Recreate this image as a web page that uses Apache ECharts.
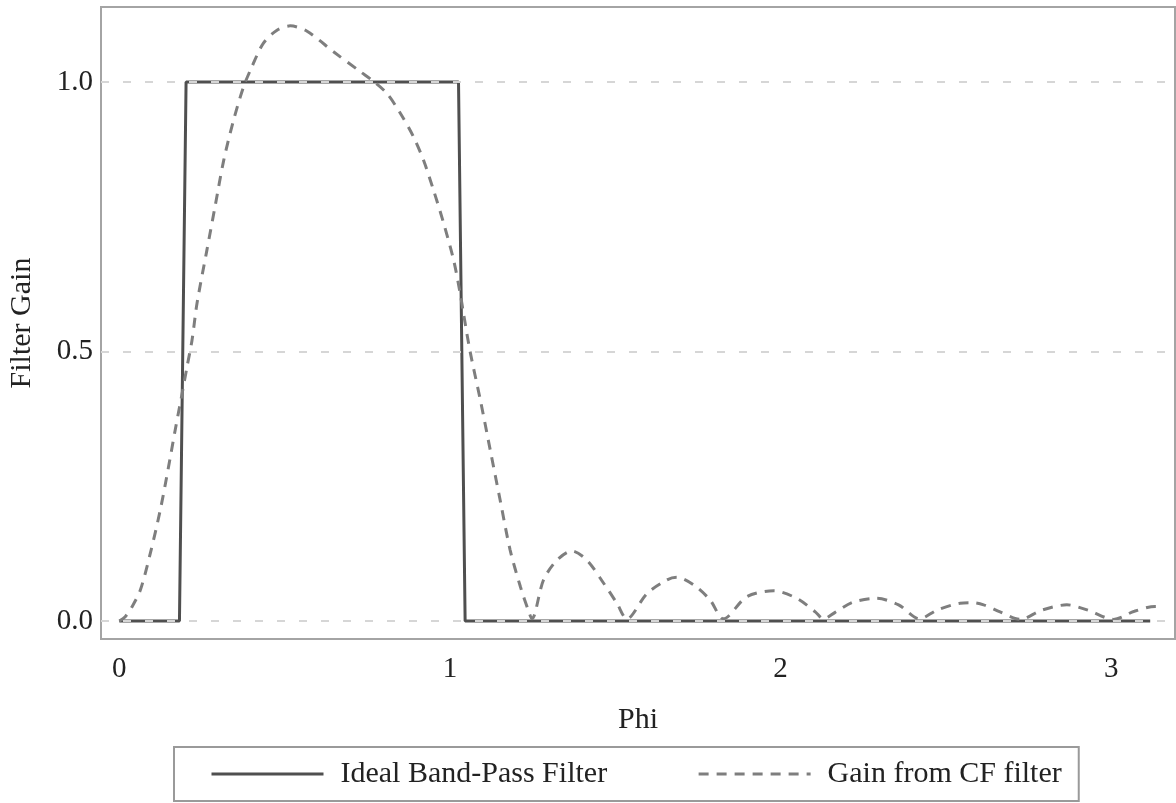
<!DOCTYPE html>
<html>
<head>
<meta charset="utf-8">
<script src="https://cdn.jsdelivr.net/npm/echarts@6/dist/echarts.min.js"></script>
<style>
html,body{margin:0;padding:0;background:#fff;}
#chart{width:1176px;height:803px;}
</style>
</head>
<body>
<div id="chart"></div>
<script>
// ---- data ----
const xTicks = [0, 1, 2, 3];
const yTicks = [0, 0.5, 1.0];
const seriesNames = ['Ideal Band-Pass Filter', 'Gain from CF filter'];

const idealX = [0, 0.182, 0.202, 1.026, 1.046, 3.118];
const idealY = [0, 0, 1, 1, 0, 0];

const gainX = [0.000, 0.018, 0.040, 0.064, 0.094, 0.124, 0.149, 0.169, 0.190, 0.205, 0.220, 0.235, 0.265, 0.290, 0.316, 0.346, 0.376, 0.401, 0.436, 0.477, 0.517, 0.568, 0.648, 0.729, 0.769, 0.809, 0.850, 0.890, 0.920, 0.950, 0.981, 1.011, 1.031, 1.041, 1.061, 1.092, 1.122, 1.152, 1.182, 1.213, 1.238, 1.248, 1.283, 1.324, 1.369, 1.414, 1.465, 1.505, 1.535, 1.596, 1.656, 1.686, 1.737, 1.787, 1.827, 1.898, 1.979, 2.049, 2.105, 2.130, 2.165, 2.220, 2.291, 2.357, 2.420, 2.473, 2.543, 2.578, 2.614, 2.664, 2.724, 2.790, 2.866, 2.930, 3.007, 3.070, 3.133, 3.142];
const gainY = [0.000, 0.008, 0.028, 0.058, 0.126, 0.206, 0.286, 0.354, 0.422, 0.472, 0.521, 0.589, 0.688, 0.770, 0.855, 0.930, 0.991, 1.028, 1.072, 1.096, 1.104, 1.094, 1.056, 1.019, 1.001, 0.979, 0.942, 0.898, 0.855, 0.800, 0.738, 0.670, 0.608, 0.571, 0.500, 0.410, 0.317, 0.224, 0.132, 0.064, 0.018, 0.004, 0.076, 0.113, 0.130, 0.113, 0.070, 0.033, 0.004, 0.051, 0.076, 0.081, 0.067, 0.039, 0.004, 0.045, 0.056, 0.042, 0.017, 0.004, 0.016, 0.035, 0.042, 0.030, 0.004, 0.020, 0.033, 0.034, 0.030, 0.017, 0.003, 0.020, 0.030, 0.020, 0.003, 0.018, 0.027, 0.027];

const zip = (xs, ys) => xs.map((x, i) => [x, ys[i]]);
const FONT = 'Liberation Serif';

const chart = echarts.init(document.getElementById('chart'), null, {renderer: 'canvas'});
chart.setOption({
  animation: false,
  backgroundColor: '#ffffff',
  textStyle: {fontFamily: FONT, color: '#222'},
  grid: {
    left: 101, right: 1, top: 7, bottom: 164,
    show: true, borderColor: '#a4a4a4', borderWidth: 2,
    containLabel: false, outerBoundsMode: 'none'
  },
  xAxis: {
    type: 'value', min: -0.0553, max: 3.193,
    name: 'Phi', nameLocation: 'middle', nameGap: 66,
    nameTextStyle: {fontFamily: FONT, fontSize: 30, color: '#222'},
    axisLine: {show: false}, axisTick: {show: false}, splitLine: {show: false},
    axisLabel: {customValues: xTicks, fontFamily: FONT, fontSize: 29, color: '#222', margin: 16,
      formatter: v => String(Math.round(v))}
  },
  yAxis: {
    type: 'value', min: -0.0334, max: 1.139,
    name: 'Filter Gain', nameLocation: 'middle', nameRotate: 90, nameGap: 64,
    nameTextStyle: {fontFamily: FONT, fontSize: 30, color: '#222'},
    axisLine: {show: false}, axisTick: {show: false}, splitLine: {show: false},
    axisLabel: {customValues: yTicks, fontFamily: FONT, fontSize: 29, color: '#222', margin: 8,
      formatter: v => v.toFixed(1)}
  },
  legend: {
    data: seriesNames,
    left: 174, top: 747,
    orient: 'horizontal',
    borderColor: '#9a9a9a', borderWidth: 2, borderRadius: 0,
    padding: [12, 17, 12, 36],
    itemWidth: 112, itemHeight: 14, itemGap: 90,
    itemStyle: {opacity: 0, color: 'rgba(0,0,0,0)', borderWidth: 0},
    lineStyle: {width: 3},
    textStyle: {fontFamily: FONT, fontSize: 30, color: '#222', padding: [0, 0, 0, 12]}
  },
  series: [
    {
      name: 'grid', type: 'line', data: [], z: 0, silent: true,
      markLine: {
        silent: true, symbol: 'none', label: {show: false},
        lineStyle: {color: '#d6d6d6', type: [8, 14], width: 2},
        data: yTicks.map(v => ({yAxis: v}))
      }
    },
    {
      name: seriesNames[0], type: 'line', data: zip(idealX, idealY), z: 3,
      symbol: 'none', lineStyle: {color: '#4f4f4f', width: 3}, itemStyle: {color: '#4f4f4f'}
    },
    {
      name: seriesNames[1], type: 'line', data: zip(gainX, gainY), z: 4, smooth: 0.3,
      symbol: 'none', lineStyle: {color: '#7e7e7e', width: 3, type: [10, 8]}, itemStyle: {color: '#7e7e7e'}
    }
  ]
});
</script>
</body>
</html>
